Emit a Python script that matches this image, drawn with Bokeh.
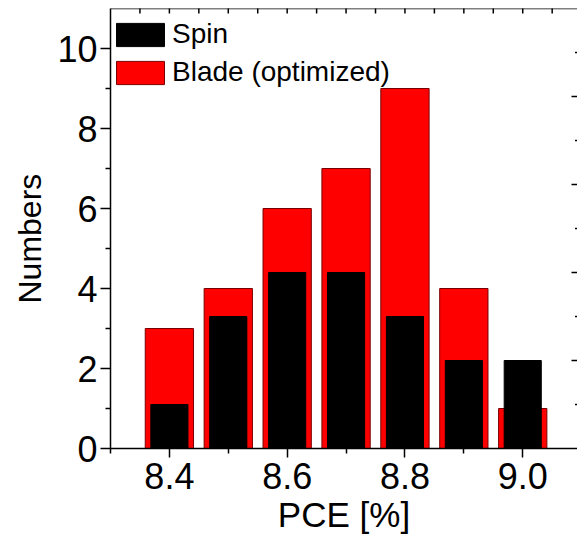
import math
from bokeh.plotting import figure
from bokeh.models import (Range1d, LinearAxis, FixedTicker, Legend, LegendItem,
                          ColumnDataSource, Span, Title)
from bokeh.embed import file_html
from bokeh.resources import INLINE

# ---- data ----
pce = [8.4, 8.5, 8.6, 8.7, 8.8, 8.9, 9.0]
blade_counts = [3, 4, 6, 7, 9, 4, 1]      # left axis (0-11)
spin_counts = [1, 3, 4, 4, 3, 2, 2]       # right axis (0-10)
x_ticks = [8.4, 8.6, 8.8, 9.0]
x_minor = [8.3, 8.5, 8.7, 8.9, 9.1]
y_ticks = [0, 2, 4, 6, 8, 10]
y_minor = [1, 3, 5, 7, 9]
top_ticks = [8.35, 8.4, 8.45, 8.5, 8.55, 8.6, 8.65, 8.7, 8.75, 8.8, 8.85, 8.9, 8.95, 9.0, 9.05]
right_major = [2, 4, 6, 8]
right_minor = [1, 3, 5, 7, 9]

FONT = "Liberation Sans"

src = ColumnDataSource(dict(x=pce, blade=blade_counts, spin=spin_counts))

X_START, X_END = 8.3, 9.093
Y_END = 11

p = figure(width=577, height=541, output_backend="svg", toolbar_location=None,
           x_range=Range1d(X_START, X_END), y_range=Range1d(0, Y_END),
           min_border_left=110, min_border_right=0, min_border_top=8,
           min_border_bottom=93, x_axis_type=None, y_axis_type=None)
p.extra_y_ranges = {"right": Range1d(0, 10)}
p.grid.visible = False
p.outline_line_color = None
p.background_fill_color = "white"
p.border_fill_color = "white"

r_blade = p.vbar(x="x", top="blade", width=0.082, source=src,
                 fill_color="#FF0000", line_color="#7a0000", line_width=1)
r_spin = p.vbar(x="x", top="spin", width=0.063, source=src, y_range_name="right",
                fill_color="#000000", line_color="#000000", line_width=1)

# bottom axis
xb = LinearAxis(ticker=FixedTicker(ticks=x_ticks, minor_ticks=x_minor),
                axis_label="PCE [%]")
xb.major_label_overrides = {8.4: "8.4", 8.6: "8.6", 8.8: "8.8", 9.0: "9.0"}
xb.major_tick_out = 9
xb.major_tick_in = 0
xb.minor_tick_out = 5
xb.minor_tick_in = 0
xb.major_label_text_font = FONT
xb.major_label_text_font_size = "36px"
xb.major_label_text_color = "black"
xb.major_label_standoff = 5
xb.axis_label_text_font = FONT
xb.axis_label_text_font_size = "35px"
xb.axis_label_text_font_style = "normal"
xb.axis_label_text_color = "black"
xb.axis_label_standoff = 3
xb.axis_line_width = 1.5
xb.major_tick_line_width = 1.5
xb.minor_tick_line_width = 1.5
p.add_layout(xb, "below")

# left axis
yl = LinearAxis(ticker=FixedTicker(ticks=y_ticks, minor_ticks=y_minor))
yl.major_tick_out = 10
yl.major_tick_in = 0
yl.minor_tick_out = 5
yl.minor_tick_in = 0
yl.major_label_text_font = FONT
yl.major_label_text_font_size = "36px"
yl.major_label_text_color = "black"
yl.major_label_standoff = 3
yl.axis_line_width = 1.5
yl.major_tick_line_width = 1.5
yl.minor_tick_line_width = 1.5
p.add_layout(yl, "left")

# y title, set a little below the centre as in the original
p.add_layout(Title(text="Numbers", align="left", offset=145, standoff=14,
                   text_font=FONT, text_font_size="32px", text_font_style="normal",
                   text_color="black"), "left")

# top frame line and inward ticks
p.add_layout(Span(location=Y_END, dimension="width", line_color="black", line_width=1.5))
p.scatter(x=top_ticks, y=[Y_END] * len(top_ticks), marker="dash", angle=math.pi / 2,
          size=10, line_color="black", line_width=1.5)

# right-hand (spin) scale ticks, inward
p.scatter(x=[X_END] * len(right_major), y=right_major, y_range_name="right",
          marker="dash", size=12, line_color="black", line_width=1.5)
p.scatter(x=[X_END] * len(right_minor), y=right_minor, y_range_name="right",
          marker="dash", size=5, line_color="black", line_width=1.5)

legend = Legend(items=[LegendItem(label="Spin", renderers=[r_spin]),
                       LegendItem(label="Blade (optimized)", renderers=[r_blade])],
                location=(0, 360))
legend.label_text_font = FONT
legend.label_text_font_size = "28px"
legend.label_text_color = "black"
legend.glyph_width = 60
legend.glyph_height = 29
legend.label_height = 30
legend.spacing = 6
legend.padding = 1
legend.margin = 0
legend.label_standoff = 2
legend.border_line_color = None
legend.background_fill_alpha = 0
p.add_layout(legend, "center")

open("out.html", "w").write(file_html(p, INLINE))
